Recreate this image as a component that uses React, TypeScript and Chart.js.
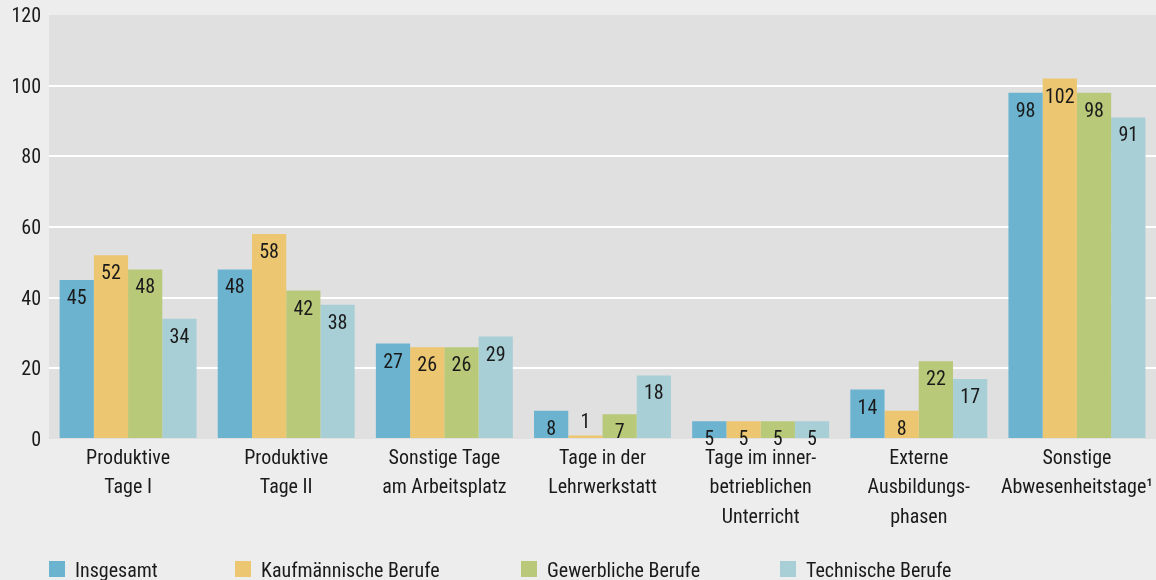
import React, { useEffect, useRef } from "react";
import { Chart, registerables } from "chart.js";

Chart.register(...registerables);

const CATEGORIES: string[][] = [
  ["Produktive", "Tage I"],
  ["Produktive", "Tage II"],
  ["Sonstige Tage", "am Arbeitsplatz"],
  ["Tage in der", "Lehrwerkstatt"],
  ["Tage im inner-", "betrieblichen", "Unterricht"],
  ["Externe", "Ausbildungs-", "phasen"],
  ["Sonstige", "Abwesenheitstage¹"],
];
const SERIES_NAMES = ["Insgesamt", "Kaufmännische Berufe", "Gewerbliche Berufe", "Technische Berufe"];
const INSGESAMT = [45, 48, 27, 8, 5, 14, 98];
const KAUFMAENNISCH = [52, 58, 26, 1, 5, 8, 102];
const GEWERBLICH = [48, 42, 26, 7, 5, 22, 98];
const TECHNISCH = [34, 38, 29, 18, 5, 17, 91];
const Y_MIN = 0;
const Y_MAX = 120;
const Y_STEP = 20;

const COLORS = ["#6cb3d0", "#ecc670", "#b8c97a", "#a8ced6"];
const LEGEND_X = [49, 235, 521, 780];
const FONT_FAMILY = "'Roboto Condensed', 'DejaVu Sans Condensed', sans-serif";
const TEXT_COLOR = "#1a1a1a";

const backgroundPlugin = {
  id: "bgPlugin",
  beforeDraw(chart: any) {
    const { ctx, chartArea } = chart;
    ctx.save();
    ctx.fillStyle = "#ededed";
    ctx.fillRect(0, 0, chart.width, chart.height);
    ctx.fillStyle = "#e0e0e0";
    ctx.fillRect(chartArea.left, chartArea.top, chartArea.right - chartArea.left, chartArea.bottom - chartArea.top);
    ctx.restore();
  },
};

const valueLabelPlugin = {
  id: "valueLabels",
  afterDatasetsDraw(chart: any) {
    const { ctx } = chart;
    ctx.save();
    ctx.font = `20px ${FONT_FAMILY}`;
    ctx.fillStyle = TEXT_COLOR;
    ctx.textAlign = "center";
    ctx.textBaseline = "alphabetic";
    chart.data.datasets.forEach((ds: any, di: number) => {
      const meta = chart.getDatasetMeta(di);
      meta.data.forEach((bar: any, i: number) => {
        const v = ds.data[i];
        const h = bar.base - bar.y;
        const y = h < 10 ? bar.y - 7 : bar.y + 24;
        ctx.fillText(String(v), bar.x, y);
      });
    });
    ctx.restore();
  },
};

const legendPlugin = {
  id: "customLegend",
  afterDraw(chart: any) {
    const { ctx } = chart;
    ctx.save();
    ctx.font = `20px ${FONT_FAMILY}`;
    ctx.textBaseline = "alphabetic";
    ctx.textAlign = "left";
    chart.data.datasets.forEach((ds: any, di: number) => {
      const x = LEGEND_X[di];
      ctx.fillStyle = ds.backgroundColor;
      ctx.fillRect(x, 561, 16, 16);
      ctx.fillStyle = TEXT_COLOR;
      ctx.fillText(ds.label, x + 26, 577);
    });
    ctx.restore();
  },
};

export default function App() {
  const ref = useRef<HTMLCanvasElement | null>(null);
  useEffect(() => {
    document.body.style.margin = "0";
    document.body.style.background = "#ededed";
    const seriesData = [INSGESAMT, KAUFMAENNISCH, GEWERBLICH, TECHNISCH];
    const chart = new Chart(ref.current as HTMLCanvasElement, {
      type: "bar",
      data: {
        labels: CATEGORIES,
        datasets: SERIES_NAMES.map((name, i) => ({
          label: name,
          data: seriesData[i],
          backgroundColor: COLORS[i],
          borderWidth: 0,
          categoryPercentage: 0.866,
          barPercentage: 1,
        })),
      },
      options: {
        animation: false,
        responsive: false,
        maintainAspectRatio: false,
        layout: { padding: { top: 15, right: 0, bottom: 41, left: 0 } },
        plugins: { legend: { display: false }, tooltip: { enabled: false } },
        scales: {
          x: {
            grid: { display: false, drawTicks: false },
            border: { display: false },
            ticks: {
              color: TEXT_COLOR,
              font: { family: FONT_FAMILY, size: 20, lineHeight: 1.47 },
              padding: 5,
              maxRotation: 0,
              autoSkip: false,
            },
            afterFit(scale: any) {
              scale.height = 100;
              scale.paddingLeft = 0;
              scale.paddingRight = 0;
            },
          },
          y: {
            min: Y_MIN,
            max: Y_MAX,
            grid: {
              drawTicks: false,
              lineWidth: 2,
              color: (c: any) =>
                c.tick && (c.tick.value === Y_MIN || c.tick.value === Y_MAX) ? "rgba(0,0,0,0)" : "#ffffff",
            },
            border: { display: false },
            ticks: {
              stepSize: Y_STEP,
              color: TEXT_COLOR,
              font: { family: FONT_FAMILY, size: 20 },
              padding: 8,
              labelOffset: 2,
            },
            afterFit(scale: any) {
              scale.width = 49;
              scale.paddingTop = 0;
              scale.paddingBottom = 0;
            },
          },
        },
      },
      plugins: [backgroundPlugin, valueLabelPlugin, legendPlugin],
    });
    return () => chart.destroy();
  }, []);
  return <canvas ref={ref} width={1156} height={580} style={{ display: "block" }} />;
}
